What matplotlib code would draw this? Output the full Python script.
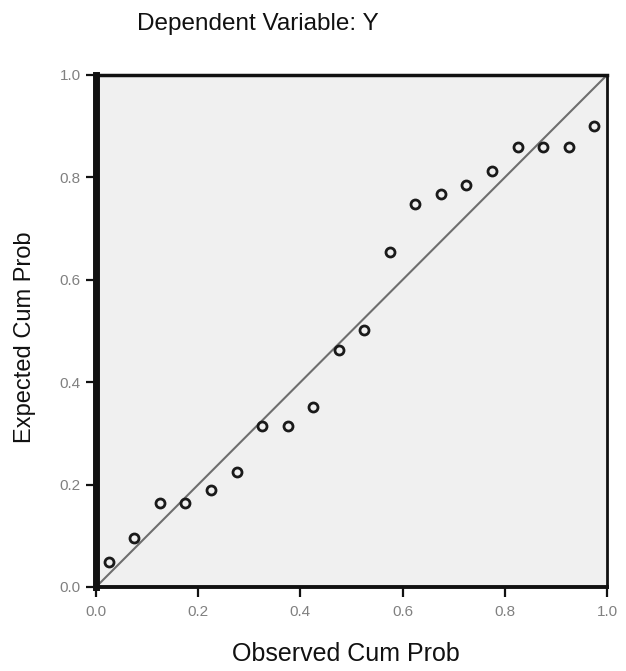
import numpy as np
import matplotlib
matplotlib.use("Agg")
import matplotlib.pyplot as plt

# observed cumulative probability (20 cases) and expected cumulative probability
observed = [0.025, 0.075, 0.125, 0.175, 0.225, 0.275, 0.325, 0.375, 0.425, 0.475,
            0.525, 0.575, 0.625, 0.675, 0.725, 0.775, 0.825, 0.875, 0.925, 0.975]
expected = [0.049, 0.096, 0.164, 0.164, 0.190, 0.224, 0.314, 0.314, 0.352, 0.463,
            0.502, 0.654, 0.748, 0.768, 0.785, 0.812, 0.859, 0.859, 0.859, 0.900]
ticks = [0.0, 0.2, 0.4, 0.6, 0.8, 1.0]
tick_labels = ["0.0", "0.2", "0.4", "0.6", "0.8", "1.0"]

plt.rcParams['font.family'] = ['Liberation Sans', 'DejaVu Sans']

fig = plt.figure(figsize=(6.26, 6.71), dpi=100)
ax = fig.add_axes([96 / 626, 84 / 671, 511 / 626, 512 / 671])
ax.set_facecolor('#f0f0f0')

# reference diagonal
ax.plot([0, 1], [0, 1], color='#6e6e6e', linewidth=1.5, zorder=2)

# P-P points
ax.plot(observed, expected, linestyle='none', marker='o', markersize=6.5,
        markerfacecolor='none', markeredgecolor='#1a1a1a', markeredgewidth=2.0, zorder=3)

ax.set_xlim(0, 1)
ax.set_ylim(0, 1)
ax.set_xticks(ticks)
ax.set_xticklabels(tick_labels)
ax.set_yticks(ticks)
ax.set_yticklabels(tick_labels)

ax.spines['left'].set_linewidth(5)
ax.spines['bottom'].set_linewidth(2.8)
ax.spines['top'].set_linewidth(2.5)
ax.spines['right'].set_linewidth(2.0)
for s in ax.spines.values():
    s.set_color('#111111')

ax.tick_params(axis='both', direction='out', length=7, width=1.6, color='#111111',
               labelsize=11, labelcolor='#808080')
ax.tick_params(axis='x', pad=6)
ax.tick_params(axis='y', pad=4)

fig.text(258 / 626, 1 - 24 / 671, "Dependent Variable: Y", ha='center', va='center',
         fontsize=17.5, color='#111111')
fig.text(346 / 626, 1 - 654 / 671, "Observed Cum Prob", ha='center', va='center',
         fontsize=18, color='#111111')
fig.text(25 / 626, 1 - 337 / 671, "Expected Cum Prob", ha='center', va='center',
         rotation=90, fontsize=17, color='#111111')

fig.savefig("out.png", dpi=100)
